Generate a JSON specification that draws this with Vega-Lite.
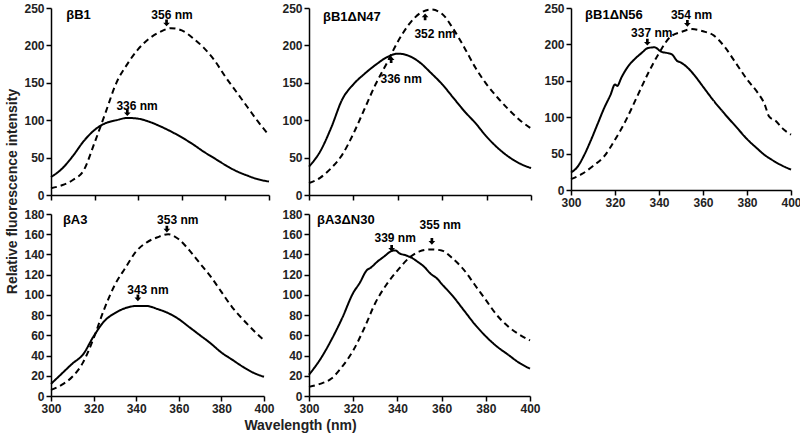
{
"$schema": "https://vega.github.io/schema/vega-lite/v6.json",
"background": "white",
"padding": {"left": 5, "top": 2, "right": 5, "bottom": 5},
"datasets": {
"curves": [
{"panel":"B1","series":"solid","wl":300,"v":24},{"panel":"B1","series":"solid","wl":305,"v":35},{"panel":"B1","series":"solid","wl":310,"v":52},{"panel":"B1","series":"solid","wl":315,"v":72},{"panel":"B1","series":"solid","wl":320,"v":87},{"panel":"B1","series":"solid","wl":325,"v":96},{"panel":"B1","series":"solid","wl":330,"v":100},{"panel":"B1","series":"solid","wl":335,"v":103},{"panel":"B1","series":"solid","wl":340,"v":102},{"panel":"B1","series":"solid","wl":345,"v":98},{"panel":"B1","series":"solid","wl":350,"v":92},{"panel":"B1","series":"solid","wl":355,"v":85},{"panel":"B1","series":"solid","wl":360,"v":77},{"panel":"B1","series":"solid","wl":365,"v":68},{"panel":"B1","series":"solid","wl":370,"v":58},{"panel":"B1","series":"solid","wl":375,"v":49},{"panel":"B1","series":"solid","wl":380,"v":40},{"panel":"B1","series":"solid","wl":385,"v":32},{"panel":"B1","series":"solid","wl":390,"v":26},{"panel":"B1","series":"solid","wl":395,"v":21},{"panel":"B1","series":"solid","wl":400,"v":18},
{"panel":"B1","series":"dashed","wl":300,"v":9},{"panel":"B1","series":"dashed","wl":305,"v":13},{"panel":"B1","series":"dashed","wl":310,"v":20},{"panel":"B1","series":"dashed","wl":315,"v":33},{"panel":"B1","series":"dashed","wl":320,"v":70},{"panel":"B1","series":"dashed","wl":325,"v":110},{"panel":"B1","series":"dashed","wl":330,"v":150},{"panel":"B1","series":"dashed","wl":335,"v":175},{"panel":"B1","series":"dashed","wl":340,"v":195},{"panel":"B1","series":"dashed","wl":345,"v":209},{"panel":"B1","series":"dashed","wl":350,"v":218},{"panel":"B1","series":"dashed","wl":355,"v":223},{"panel":"B1","series":"dashed","wl":360,"v":220},{"panel":"B1","series":"dashed","wl":365,"v":210},{"panel":"B1","series":"dashed","wl":370,"v":197},{"panel":"B1","series":"dashed","wl":375,"v":180},{"panel":"B1","series":"dashed","wl":380,"v":158},{"panel":"B1","series":"dashed","wl":385,"v":138},{"panel":"B1","series":"dashed","wl":390,"v":118},{"panel":"B1","series":"dashed","wl":395,"v":98},{"panel":"B1","series":"dashed","wl":400,"v":80},
{"panel":"N47","series":"solid","wl":300,"v":38},{"panel":"N47","series":"solid","wl":305,"v":58},{"panel":"N47","series":"solid","wl":310,"v":90},{"panel":"N47","series":"solid","wl":315,"v":128},{"panel":"N47","series":"solid","wl":320,"v":148},{"panel":"N47","series":"solid","wl":325,"v":162},{"panel":"N47","series":"solid","wl":330,"v":174},{"panel":"N47","series":"solid","wl":335,"v":184},{"panel":"N47","series":"solid","wl":340,"v":189},{"panel":"N47","series":"solid","wl":345,"v":186},{"panel":"N47","series":"solid","wl":350,"v":177},{"panel":"N47","series":"solid","wl":355,"v":163},{"panel":"N47","series":"solid","wl":360,"v":148},{"panel":"N47","series":"solid","wl":365,"v":130},{"panel":"N47","series":"solid","wl":370,"v":112},{"panel":"N47","series":"solid","wl":375,"v":96},{"panel":"N47","series":"solid","wl":380,"v":78},{"panel":"N47","series":"solid","wl":385,"v":63},{"panel":"N47","series":"solid","wl":390,"v":51},{"panel":"N47","series":"solid","wl":395,"v":42},{"panel":"N47","series":"solid","wl":400,"v":36},
{"panel":"N47","series":"dashed","wl":300,"v":16},{"panel":"N47","series":"dashed","wl":305,"v":23},{"panel":"N47","series":"dashed","wl":310,"v":36},{"panel":"N47","series":"dashed","wl":315,"v":54},{"panel":"N47","series":"dashed","wl":320,"v":82},{"panel":"N47","series":"dashed","wl":325,"v":115},{"panel":"N47","series":"dashed","wl":330,"v":148},{"panel":"N47","series":"dashed","wl":335,"v":176},{"panel":"N47","series":"dashed","wl":340,"v":205},{"panel":"N47","series":"dashed","wl":345,"v":228},{"panel":"N47","series":"dashed","wl":350,"v":243},{"panel":"N47","series":"dashed","wl":355,"v":248},{"panel":"N47","series":"dashed","wl":360,"v":242},{"panel":"N47","series":"dashed","wl":365,"v":222},{"panel":"N47","series":"dashed","wl":370,"v":197},{"panel":"N47","series":"dashed","wl":375,"v":170},{"panel":"N47","series":"dashed","wl":380,"v":148},{"panel":"N47","series":"dashed","wl":385,"v":130},{"panel":"N47","series":"dashed","wl":390,"v":114},{"panel":"N47","series":"dashed","wl":395,"v":100},{"panel":"N47","series":"dashed","wl":400,"v":89},
{"panel":"N56","series":"solid","wl":300,"v":24},{"panel":"N56","series":"solid","wl":303,"v":32},{"panel":"N56","series":"solid","wl":306,"v":48},{"panel":"N56","series":"solid","wl":309,"v":68},{"panel":"N56","series":"solid","wl":312,"v":90},{"panel":"N56","series":"solid","wl":315,"v":112},{"panel":"N56","series":"solid","wl":318,"v":131},{"panel":"N56","series":"solid","wl":320,"v":145},{"panel":"N56","series":"solid","wl":321,"v":143},{"panel":"N56","series":"solid","wl":323,"v":155},{"panel":"N56","series":"solid","wl":326,"v":170},{"panel":"N56","series":"solid","wl":329,"v":180},{"panel":"N56","series":"solid","wl":332,"v":188},{"panel":"N56","series":"solid","wl":335,"v":195},{"panel":"N56","series":"solid","wl":338,"v":196},{"panel":"N56","series":"solid","wl":341,"v":190},{"panel":"N56","series":"solid","wl":344,"v":188},{"panel":"N56","series":"solid","wl":346,"v":186},{"panel":"N56","series":"solid","wl":348,"v":178},{"panel":"N56","series":"solid","wl":350,"v":175},{"panel":"N56","series":"solid","wl":353,"v":168},{"panel":"N56","series":"solid","wl":356,"v":158},{"panel":"N56","series":"solid","wl":360,"v":142},{"panel":"N56","series":"solid","wl":365,"v":122},{"panel":"N56","series":"solid","wl":370,"v":104},{"panel":"N56","series":"solid","wl":375,"v":87},{"panel":"N56","series":"solid","wl":380,"v":70},{"panel":"N56","series":"solid","wl":385,"v":56},{"panel":"N56","series":"solid","wl":388,"v":48},{"panel":"N56","series":"solid","wl":390,"v":44},{"panel":"N56","series":"solid","wl":395,"v":35},{"panel":"N56","series":"solid","wl":400,"v":28},
{"panel":"N56","series":"dashed","wl":300,"v":15},{"panel":"N56","series":"dashed","wl":305,"v":22},{"panel":"N56","series":"dashed","wl":310,"v":33},{"panel":"N56","series":"dashed","wl":315,"v":46},{"panel":"N56","series":"dashed","wl":320,"v":69},{"panel":"N56","series":"dashed","wl":325,"v":96},{"panel":"N56","series":"dashed","wl":330,"v":128},{"panel":"N56","series":"dashed","wl":335,"v":160},{"panel":"N56","series":"dashed","wl":340,"v":188},{"panel":"N56","series":"dashed","wl":345,"v":210},{"panel":"N56","series":"dashed","wl":350,"v":217},{"panel":"N56","series":"dashed","wl":355,"v":221},{"panel":"N56","series":"dashed","wl":360,"v":218},{"panel":"N56","series":"dashed","wl":365,"v":212},{"panel":"N56","series":"dashed","wl":370,"v":196},{"panel":"N56","series":"dashed","wl":375,"v":174},{"panel":"N56","series":"dashed","wl":380,"v":152},{"panel":"N56","series":"dashed","wl":385,"v":133},{"panel":"N56","series":"dashed","wl":388,"v":118},{"panel":"N56","series":"dashed","wl":390,"v":101},{"panel":"N56","series":"dashed","wl":393,"v":95},{"panel":"N56","series":"dashed","wl":396,"v":85},{"panel":"N56","series":"dashed","wl":400,"v":76},
{"panel":"A3","series":"solid","wl":300,"v":12},{"panel":"A3","series":"solid","wl":305,"v":22},{"panel":"A3","series":"solid","wl":310,"v":32},{"panel":"A3","series":"solid","wl":315,"v":41},{"panel":"A3","series":"solid","wl":320,"v":59},{"panel":"A3","series":"solid","wl":325,"v":74},{"panel":"A3","series":"solid","wl":330,"v":82},{"panel":"A3","series":"solid","wl":335,"v":87},{"panel":"A3","series":"solid","wl":340,"v":89},{"panel":"A3","series":"solid","wl":345,"v":89},{"panel":"A3","series":"solid","wl":350,"v":86},{"panel":"A3","series":"solid","wl":355,"v":82},{"panel":"A3","series":"solid","wl":360,"v":76},{"panel":"A3","series":"solid","wl":365,"v":68},{"panel":"A3","series":"solid","wl":370,"v":60},{"panel":"A3","series":"solid","wl":375,"v":52},{"panel":"A3","series":"solid","wl":380,"v":43},{"panel":"A3","series":"solid","wl":385,"v":36},{"panel":"A3","series":"solid","wl":390,"v":29},{"panel":"A3","series":"solid","wl":395,"v":23},{"panel":"A3","series":"solid","wl":400,"v":19},
{"panel":"A3","series":"dashed","wl":300,"v":6},{"panel":"A3","series":"dashed","wl":305,"v":11},{"panel":"A3","series":"dashed","wl":310,"v":19},{"panel":"A3","series":"dashed","wl":315,"v":33},{"panel":"A3","series":"dashed","wl":320,"v":57},{"panel":"A3","series":"dashed","wl":325,"v":86},{"panel":"A3","series":"dashed","wl":330,"v":110},{"panel":"A3","series":"dashed","wl":335,"v":127},{"panel":"A3","series":"dashed","wl":340,"v":143},{"panel":"A3","series":"dashed","wl":345,"v":152},{"panel":"A3","series":"dashed","wl":350,"v":157},{"panel":"A3","series":"dashed","wl":355,"v":160},{"panel":"A3","series":"dashed","wl":360,"v":155},{"panel":"A3","series":"dashed","wl":365,"v":144},{"panel":"A3","series":"dashed","wl":370,"v":131},{"panel":"A3","series":"dashed","wl":375,"v":118},{"panel":"A3","series":"dashed","wl":380,"v":103},{"panel":"A3","series":"dashed","wl":385,"v":88},{"panel":"A3","series":"dashed","wl":390,"v":76},{"panel":"A3","series":"dashed","wl":395,"v":65},{"panel":"A3","series":"dashed","wl":400,"v":55},
{"panel":"N30","series":"solid","wl":300,"v":21},{"panel":"N30","series":"solid","wl":305,"v":36},{"panel":"N30","series":"solid","wl":310,"v":55},{"panel":"N30","series":"solid","wl":315,"v":77},{"panel":"N30","series":"solid","wl":320,"v":102},{"panel":"N30","series":"solid","wl":323,"v":112},{"panel":"N30","series":"solid","wl":326,"v":124},{"panel":"N30","series":"solid","wl":328,"v":127},{"panel":"N30","series":"solid","wl":331,"v":133},{"panel":"N30","series":"solid","wl":334,"v":138},{"panel":"N30","series":"solid","wl":337,"v":143},{"panel":"N30","series":"solid","wl":339,"v":144},{"panel":"N30","series":"solid","wl":341,"v":141},{"panel":"N30","series":"solid","wl":344,"v":139},{"panel":"N30","series":"solid","wl":347,"v":136},{"panel":"N30","series":"solid","wl":349,"v":133},{"panel":"N30","series":"solid","wl":352,"v":128},{"panel":"N30","series":"solid","wl":355,"v":121},{"panel":"N30","series":"solid","wl":358,"v":116},{"panel":"N30","series":"solid","wl":360,"v":111},{"panel":"N30","series":"solid","wl":365,"v":99},{"panel":"N30","series":"solid","wl":370,"v":85},{"panel":"N30","series":"solid","wl":375,"v":71},{"panel":"N30","series":"solid","wl":380,"v":59},{"panel":"N30","series":"solid","wl":385,"v":49},{"panel":"N30","series":"solid","wl":390,"v":41},{"panel":"N30","series":"solid","wl":395,"v":33},{"panel":"N30","series":"solid","wl":400,"v":27},
{"panel":"N30","series":"dashed","wl":300,"v":9},{"panel":"N30","series":"dashed","wl":305,"v":12},{"panel":"N30","series":"dashed","wl":310,"v":17},{"panel":"N30","series":"dashed","wl":315,"v":29},{"panel":"N30","series":"dashed","wl":320,"v":45},{"panel":"N30","series":"dashed","wl":325,"v":67},{"panel":"N30","series":"dashed","wl":330,"v":92},{"panel":"N30","series":"dashed","wl":335,"v":110},{"panel":"N30","series":"dashed","wl":340,"v":124},{"panel":"N30","series":"dashed","wl":345,"v":136},{"panel":"N30","series":"dashed","wl":350,"v":143},{"panel":"N30","series":"dashed","wl":355,"v":145},{"panel":"N30","series":"dashed","wl":360,"v":144},{"panel":"N30","series":"dashed","wl":365,"v":136},{"panel":"N30","series":"dashed","wl":370,"v":125},{"panel":"N30","series":"dashed","wl":375,"v":110},{"panel":"N30","series":"dashed","wl":380,"v":95},{"panel":"N30","series":"dashed","wl":385,"v":80},{"panel":"N30","series":"dashed","wl":390,"v":69},{"panel":"N30","series":"dashed","wl":395,"v":61},{"panel":"N30","series":"dashed","wl":400,"v":55}
],
"arrows": [
{"panel":"B1","wl":353,"v":230,"dir":"down"},{"panel":"B1","wl":335,"v":110,"dir":"down"},
{"panel":"N47","wl":352.3,"v":238,"dir":"up"},{"panel":"N47","wl":337,"v":181,"dir":"up"},
{"panel":"N56","wl":352.9,"v":229,"dir":"down"},{"panel":"N56","wl":334.7,"v":203,"dir":"down"},
{"panel":"A3","wl":354.4,"v":165,"dir":"down"},{"panel":"A3","wl":340.8,"v":97,"dir":"down"},
{"panel":"N30","wl":355.6,"v":153,"dir":"down"},{"panel":"N30","wl":337.4,"v":146,"dir":"down"}
],
"labels": [
{"panel":"B1","wl":355.5,"v":240,"text":"356 nm"},{"panel":"B1","wl":339.5,"v":119,"text":"336 nm"},
{"panel":"N47","wl":356.8,"v":215,"text":"352 nm"},{"panel":"N47","wl":341.5,"v":155,"text":"336 nm"},
{"panel":"N56","wl":354.8,"v":240,"text":"354 nm"},{"panel":"N56","wl":336.7,"v":216,"text":"337 nm"},
{"panel":"A3","wl":359.5,"v":174,"text":"353 nm"},{"panel":"A3","wl":345.5,"v":105,"text":"343 nm"},
{"panel":"N30","wl":359.4,"v":169,"text":"355 nm"},{"panel":"N30","wl":339,"v":156,"text":"339 nm"}
],
"names": [
{"panel":"B1","wl":307,"v":240,"text":"βB1"},
{"panel":"N47","wl":306.3,"v":238,"text":"βB1ΔN47"},
{"panel":"N56","wl":306.4,"v":240,"text":"βB1ΔN56"},
{"panel":"A3","wl":305.6,"v":174,"text":"βA3"},
{"panel":"N30","wl":303.6,"v":174,"text":"βA3ΔN30"}
]
},
"columns": 3,
"bounds": "flush",
"spacing": {"row": 19, "column": 40},
"concat": [
{
"width": 218, "height": 187,
"encoding": {
"x": {"field": "wl", "type": "quantitative", "scale": {"domain": [300, 400], "nice": false}, "axis": {"values": [300,320,340,360,380,400], "labels": false, "title": null}},
"y": {"field": "v", "type": "quantitative", "scale": {"domain": [0, 250], "nice": false}, "axis": {"values": [0,50,100,150,200,250], "title": null}}
},
"layer": [
{"data": {"name": "curves"}, "transform": [{"filter": "datum.panel === 'B1'"}], "mark": {"type": "line", "color": "black", "strokeWidth": 2, "interpolate": "monotone"}, "encoding": {"strokeDash": {"field": "series", "type": "nominal", "scale": {"domain": ["solid","dashed"], "range": [[1,0],[6,4]]}, "legend": null}}},
{"data": {"name": "arrows"}, "transform": [{"filter": "datum.panel === 'B1'"}], "mark": {"type": "point", "filled": true, "color": "black", "opacity": 1, "size": 45}, "encoding": {"shape": {"field": "dir", "type": "nominal", "scale": {"domain": ["down","up"], "range": ["M-0.4,-1L0.4,-1L0.4,-0.1L1,-0.1L0,1L-1,-0.1L-0.4,-0.1Z", "M-0.4,1L0.4,1L0.4,0.1L1,0.1L0,-1L-1,0.1L-0.4,0.1Z"]}, "legend": null}}},
{"data": {"name": "labels"}, "transform": [{"filter": "datum.panel === 'B1'"}], "mark": {"type": "text", "font": "Liberation Sans", "fontWeight": "bold", "fontSize": 12, "color": "black", "align": "center", "baseline": "middle"}, "encoding": {"text": {"field": "text"}}},
{"data": {"name": "names"}, "transform": [{"filter": "datum.panel === 'B1'"}], "mark": {"type": "text", "font": "Liberation Sans", "fontWeight": "bold", "fontSize": 13, "color": "black", "align": "left", "baseline": "middle"}, "encoding": {"text": {"field": "text"}}}
]
},
{
"width": 222, "height": 187,
"encoding": {
"x": {"field": "wl", "type": "quantitative", "scale": {"domain": [300, 400], "nice": false}, "axis": {"values": [300,320,340,360,380,400], "labels": false, "title": null}},
"y": {"field": "v", "type": "quantitative", "scale": {"domain": [0, 250], "nice": false}, "axis": {"values": [0,50,100,150,200,250], "title": null}}
},
"layer": [
{"data": {"name": "curves"}, "transform": [{"filter": "datum.panel === 'N47'"}], "mark": {"type": "line", "color": "black", "strokeWidth": 2, "interpolate": "monotone"}, "encoding": {"strokeDash": {"field": "series", "type": "nominal", "scale": {"domain": ["solid","dashed"], "range": [[1,0],[6,4]]}, "legend": null}}},
{"data": {"name": "arrows"}, "transform": [{"filter": "datum.panel === 'N47'"}], "mark": {"type": "point", "filled": true, "color": "black", "opacity": 1, "size": 45}, "encoding": {"shape": {"field": "dir", "type": "nominal", "scale": {"domain": ["down","up"], "range": ["M-0.4,-1L0.4,-1L0.4,-0.1L1,-0.1L0,1L-1,-0.1L-0.4,-0.1Z", "M-0.4,1L0.4,1L0.4,0.1L1,0.1L0,-1L-1,0.1L-0.4,0.1Z"]}, "legend": null}}},
{"data": {"name": "labels"}, "transform": [{"filter": "datum.panel === 'N47'"}], "mark": {"type": "text", "font": "Liberation Sans", "fontWeight": "bold", "fontSize": 12, "color": "black", "align": "center", "baseline": "middle"}, "encoding": {"text": {"field": "text"}}},
{"data": {"name": "names"}, "transform": [{"filter": "datum.panel === 'N47'"}], "mark": {"type": "text", "font": "Liberation Sans", "fontWeight": "bold", "fontSize": 13, "color": "black", "align": "left", "baseline": "middle"}, "encoding": {"text": {"field": "text"}}}
]
},
{
"width": 220, "height": 182,
"encoding": {
"x": {"field": "wl", "type": "quantitative", "scale": {"domain": [300, 400], "nice": false}, "axis": {"values": [300,320,340,360,380,400], "title": null}},
"y": {"field": "v", "type": "quantitative", "scale": {"domain": [0, 250], "nice": false}, "axis": {"values": [0,50,100,150,200,250], "title": null}}
},
"layer": [
{"data": {"name": "curves"}, "transform": [{"filter": "datum.panel === 'N56'"}], "mark": {"type": "line", "color": "black", "strokeWidth": 2, "interpolate": "monotone"}, "encoding": {"strokeDash": {"field": "series", "type": "nominal", "scale": {"domain": ["solid","dashed"], "range": [[1,0],[6,4]]}, "legend": null}}},
{"data": {"name": "arrows"}, "transform": [{"filter": "datum.panel === 'N56'"}], "mark": {"type": "point", "filled": true, "color": "black", "opacity": 1, "size": 45}, "encoding": {"shape": {"field": "dir", "type": "nominal", "scale": {"domain": ["down","up"], "range": ["M-0.4,-1L0.4,-1L0.4,-0.1L1,-0.1L0,1L-1,-0.1L-0.4,-0.1Z", "M-0.4,1L0.4,1L0.4,0.1L1,0.1L0,-1L-1,0.1L-0.4,0.1Z"]}, "legend": null}}},
{"data": {"name": "labels"}, "transform": [{"filter": "datum.panel === 'N56'"}], "mark": {"type": "text", "font": "Liberation Sans", "fontWeight": "bold", "fontSize": 12, "color": "black", "align": "center", "baseline": "middle"}, "encoding": {"text": {"field": "text"}}},
{"data": {"name": "names"}, "transform": [{"filter": "datum.panel === 'N56'"}], "mark": {"type": "text", "font": "Liberation Sans", "fontWeight": "bold", "fontSize": 13, "color": "black", "align": "left", "baseline": "middle"}, "encoding": {"text": {"field": "text"}}}
]
},
{
"width": 213, "height": 182,
"encoding": {
"x": {"field": "wl", "type": "quantitative", "scale": {"domain": [300, 400], "nice": false}, "axis": {"values": [300,320,340,360,380,400], "title": "Wavelength (nm)", "titleX": 249}},
"y": {"field": "v", "type": "quantitative", "scale": {"domain": [0, 180], "nice": false}, "axis": {"values": [0,20,40,60,80,100,120,140,160,180], "title": "Relative fluorescence intensity", "titleY": -23}}
},
"layer": [
{"data": {"name": "curves"}, "transform": [{"filter": "datum.panel === 'A3'"}], "mark": {"type": "line", "color": "black", "strokeWidth": 2, "interpolate": "monotone"}, "encoding": {"strokeDash": {"field": "series", "type": "nominal", "scale": {"domain": ["solid","dashed"], "range": [[1,0],[6,4]]}, "legend": null}}},
{"data": {"name": "arrows"}, "transform": [{"filter": "datum.panel === 'A3'"}], "mark": {"type": "point", "filled": true, "color": "black", "opacity": 1, "size": 45}, "encoding": {"shape": {"field": "dir", "type": "nominal", "scale": {"domain": ["down","up"], "range": ["M-0.4,-1L0.4,-1L0.4,-0.1L1,-0.1L0,1L-1,-0.1L-0.4,-0.1Z", "M-0.4,1L0.4,1L0.4,0.1L1,0.1L0,-1L-1,0.1L-0.4,0.1Z"]}, "legend": null}}},
{"data": {"name": "labels"}, "transform": [{"filter": "datum.panel === 'A3'"}], "mark": {"type": "text", "font": "Liberation Sans", "fontWeight": "bold", "fontSize": 12, "color": "black", "align": "center", "baseline": "middle"}, "encoding": {"text": {"field": "text"}}},
{"data": {"name": "names"}, "transform": [{"filter": "datum.panel === 'A3'"}], "mark": {"type": "text", "font": "Liberation Sans", "fontWeight": "bold", "fontSize": 13, "color": "black", "align": "left", "baseline": "middle"}, "encoding": {"text": {"field": "text"}}}
]
},
{
"width": 221, "height": 182,
"encoding": {
"x": {"field": "wl", "type": "quantitative", "scale": {"domain": [300, 400], "nice": false}, "axis": {"values": [300,320,340,360,380,400], "title": null}},
"y": {"field": "v", "type": "quantitative", "scale": {"domain": [0, 180], "nice": false}, "axis": {"values": [0,20,40,60,80,100,120,140,160,180], "title": null}}
},
"layer": [
{"data": {"name": "curves"}, "transform": [{"filter": "datum.panel === 'N30'"}], "mark": {"type": "line", "color": "black", "strokeWidth": 2, "interpolate": "monotone"}, "encoding": {"strokeDash": {"field": "series", "type": "nominal", "scale": {"domain": ["solid","dashed"], "range": [[1,0],[6,4]]}, "legend": null}}},
{"data": {"name": "arrows"}, "transform": [{"filter": "datum.panel === 'N30'"}], "mark": {"type": "point", "filled": true, "color": "black", "opacity": 1, "size": 45}, "encoding": {"shape": {"field": "dir", "type": "nominal", "scale": {"domain": ["down","up"], "range": ["M-0.4,-1L0.4,-1L0.4,-0.1L1,-0.1L0,1L-1,-0.1L-0.4,-0.1Z", "M-0.4,1L0.4,1L0.4,0.1L1,0.1L0,-1L-1,0.1L-0.4,0.1Z"]}, "legend": null}}},
{"data": {"name": "labels"}, "transform": [{"filter": "datum.panel === 'N30'"}], "mark": {"type": "text", "font": "Liberation Sans", "fontWeight": "bold", "fontSize": 12, "color": "black", "align": "center", "baseline": "middle"}, "encoding": {"text": {"field": "text"}}},
{"data": {"name": "names"}, "transform": [{"filter": "datum.panel === 'N30'"}], "mark": {"type": "text", "font": "Liberation Sans", "fontWeight": "bold", "fontSize": 13, "color": "black", "align": "left", "baseline": "middle"}, "encoding": {"text": {"field": "text"}}}
]
}
],
"config": {
"view": {"stroke": null},
"axis": {"domainColor": "black", "domainWidth": 1.5, "tickColor": "black", "tickWidth": 1.5, "tickSize": 5, "labelFont": "Liberation Sans", "labelFontSize": 12, "labelFontWeight": "bold", "labelColor": "#222222", "labelPadding": 2, "labelFlush": false, "labelOverlap": false, "titleFont": "Liberation Sans", "titleFontSize": 14, "titleFontWeight": "bold", "titleColor": "#222222", "grid": false}
}
}
